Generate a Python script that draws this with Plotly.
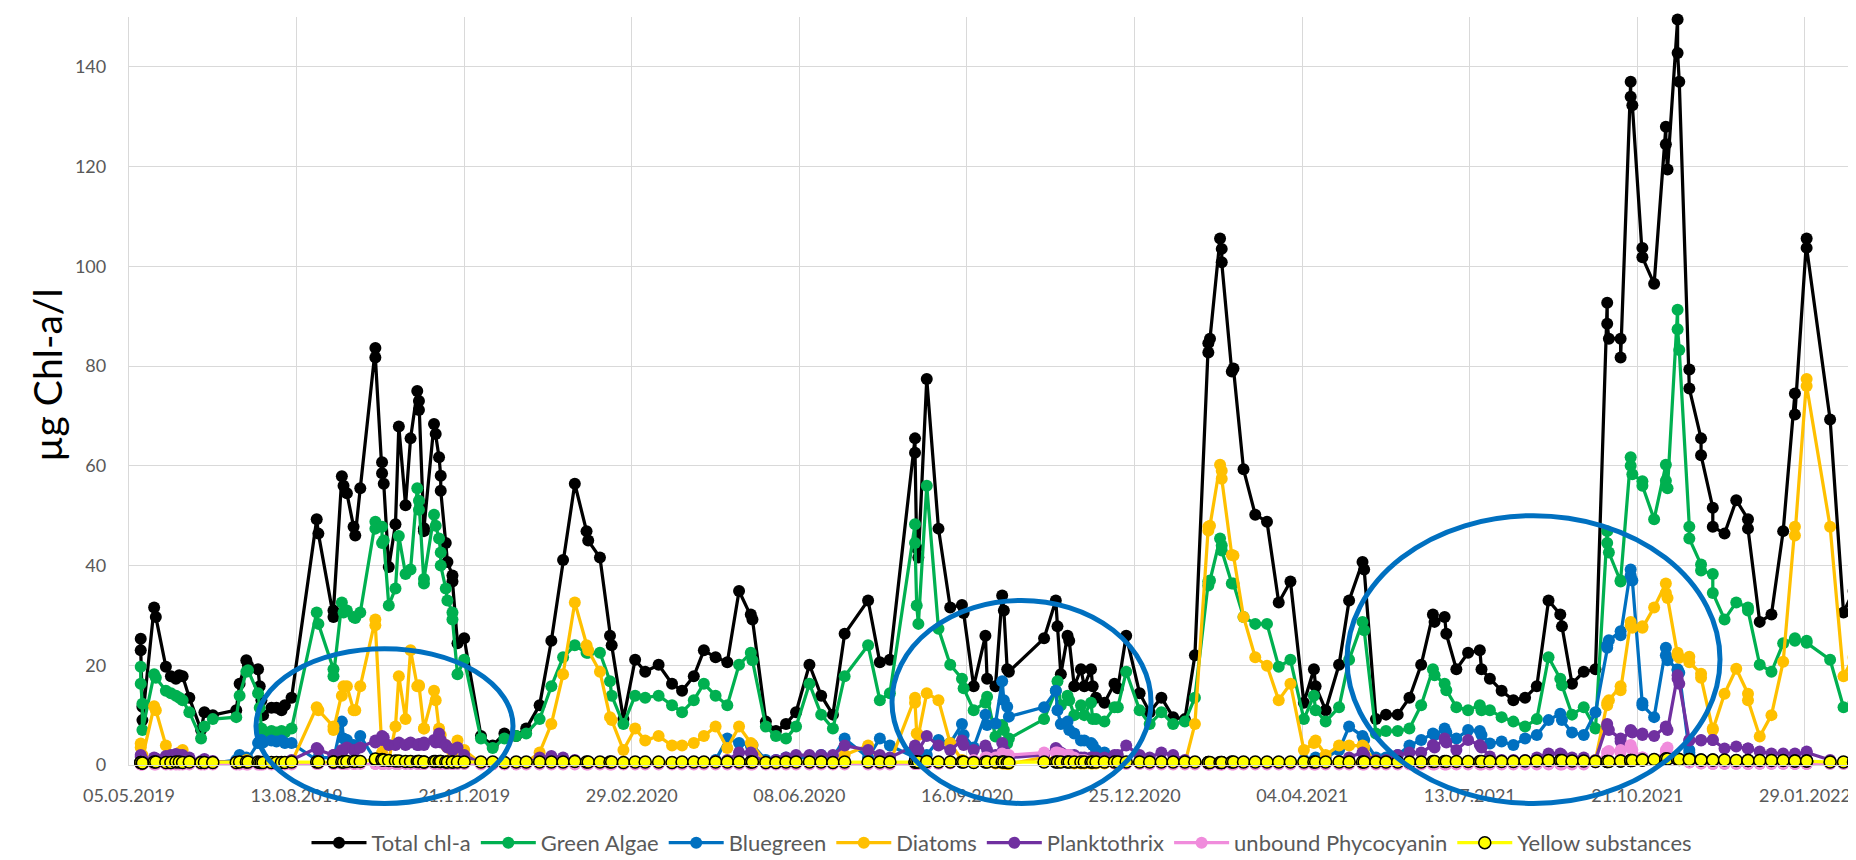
import pandas as pd
import plotly.graph_objects as go

# sampling days, counted from 05.05.2019 (first tick of the date axis)
sample_day = [
    # May - Jun 2019
    7, 7, 8, 8, 15, 16, 22, 25, 28, 30, 32, 36, 43, 45, 50,
    # Jul - Aug 2019
    64, 66, 70, 71, 77, 78, 79, 80, 85, 88, 91, 93, 97,
    # Aug - Nov 2019
    112, 113, 122, 122, 127, 128, 130, 134, 135, 138, 147, 147, 151, 151, 152, 155, 159, 161,
    165, 168, 172, 173, 173, 176, 176, 182, 183, 185, 186, 186, 189, 190, 193, 193, 196, 200,
    # Dec 2019 - Apr 2020
    210, 217, 224, 231, 237, 245, 252, 259, 266, 273, 274, 281, 287, 288, 295, 302, 308, 316,
    324, 330, 337, 343, 350, 357,
    # May - Aug 2020
    364, 371, 372, 380, 386, 392, 398, 406, 413, 420, 427, 441, 448, 454,
    # Aug - Oct 2020
    469, 469, 470, 471, 476, 483, 490, 497, 498, 504, 511, 512, 517, 521, 522, 524, 525,
    # Nov 2020 - Jan 2021
    546, 553, 554, 556, 560, 561, 564, 568, 570, 574, 575, 577, 582, 588, 590, 595, 603, 609,
    616, 623, 630,
    # Feb - May 2021
    636, 644, 644, 645, 651, 652, 652, 658, 659, 665, 672, 679, 686, 693, 701, 707, 708, 714,
    722, 728, 736, 737,
    # May - Sep 2021
    744, 750, 757, 764, 771, 778, 779, 785, 786, 792, 799, 806, 807, 812, 819, 826, 833, 840,
    847, 854, 855, 861, 868, 875,
    # Oct 2021 - Feb 2022
    882, 882, 883, 890, 890, 896, 896, 897, 903, 903, 910, 917, 917, 918, 924, 924, 925, 931,
    931, 938, 938, 945, 945, 952, 959, 966, 966, 973, 980, 987, 994, 994, 1001, 1001, 1015,
    1023, 1029, 1029,
]

total_chla = [
    25.3, 23.0, 11.7, 9.0, 31.6, 29.7, 19.7, 17.8, 17.3, 18.0, 17.8, 13.5, 7.0, 10.6, 10.0,
    11.0, 16.3, 21.0, 20.0, 19.2, 15.8, 13.0, 10.0, 11.5, 11.5, 11.0, 12.0, 13.5,
    49.3, 46.4, 29.7, 31.0, 57.9, 56.0, 54.5, 47.8, 46.0, 55.5, 83.6, 81.7, 60.7, 58.5, 56.4, 39.7, 48.3, 67.9,
    52.1, 65.5, 75.0, 71.2, 73.0, 46.9, 47.5, 68.4, 66.4, 61.7, 58.0, 55.0, 44.5, 40.7, 38.0, 36.8, 24.4, 25.4,
    5.8, 3.9, 6.3, 5.8, 7.3, 12.0, 24.9, 41.1, 56.4, 46.9, 45.0, 41.6, 25.9, 24.0, 9.2, 21.1, 18.7, 20.1,
    16.3, 14.9, 17.8, 23.0, 21.6, 20.6,
    34.9, 30.2, 29.2, 8.7, 6.8, 8.2, 10.6, 20.1, 13.9, 10.1, 26.3, 33.0, 20.6, 21.1,
    65.5, 62.6, 43.5, 41.6, 77.4, 47.4, 31.6, 32.1, 30.5, 15.8, 25.9, 17.3, 15.8, 34.0, 31.0, 19.2, 18.7,
    25.4, 33.0, 27.8, 18.2, 25.9, 24.9, 15.8, 19.2, 15.8, 19.2, 15.8, 13.5, 12.5, 16.3, 15.4, 25.9, 14.4, 10.6,
    13.5, 9.6, 9.2,
    22.0, 84.6, 82.7, 85.5, 105.6, 103.5, 100.8, 78.9, 79.5, 59.3, 50.2, 48.8, 32.6, 36.8, 12.5, 19.2, 15.8, 11.0,
    20.1, 33.0, 40.7, 39.2,
    9.2, 10.1, 10.1, 13.5, 20.1, 30.2, 28.7, 29.7, 26.3, 19.2, 22.5, 23.0, 19.2, 17.3, 14.9, 13.0, 13.5, 15.8,
    33.0, 30.2, 27.8, 16.3, 18.7, 19.2,
    92.7, 88.5, 85.5, 85.5, 81.7, 137.0, 134.0, 132.3, 103.7, 101.8, 96.5, 128.0, 124.5, 119.4, 149.5, 142.8, 137.0, 79.3,
    75.5, 65.5, 62.1, 51.6, 47.8, 46.4, 53.1, 49.3, 47.4, 28.7, 30.2, 46.9, 74.5, 70.3, 105.6, 103.7, 69.3,
    30.6, 34.9, 32.1,
]

green_algae = [
    19.7, 16.3, 12.3, 7.0, 18.2, 17.5, 14.9, 14.4, 13.9, 13.5, 13.0, 10.6, 5.3, 7.7, 9.2,
    9.6, 13.9, 18.7, 19.0, 14.4, 11.5, 7.3, 6.0, 6.8, 6.5, 6.8, 6.5, 7.3,
    30.6, 28.3, 19.2, 17.8, 32.6, 30.6, 31.0, 29.7, 29.5, 30.6, 48.8, 47.4, 47.8, 44.5, 45.0, 32.0, 35.4, 45.9,
    38.3, 39.2, 55.5, 51.2, 53.0, 36.4, 37.3, 50.2, 48.0, 45.4, 42.6, 40.0, 35.4, 33.0, 30.6, 29.2, 18.2, 21.1,
    5.3, 3.4, 5.3, 5.8, 6.3, 9.2, 15.8, 21.6, 24.0, 22.5, 22.5, 22.5, 16.8, 13.9, 8.2, 13.9, 13.5, 13.9,
    12.0, 10.6, 13.0, 16.3, 13.9, 12.0,
    20.1, 22.5, 21.0, 7.7, 5.8, 5.3, 7.7, 16.3, 10.1, 7.3, 17.8, 24.0, 13.0, 14.4,
    48.3, 44.5, 32.0, 28.3, 56.0, 27.3, 20.1, 17.3, 15.4, 11.0, 12.5, 13.7, 5.7, 8.0, 7.0, 4.3, 5.3,
    9.2, 14.9, 16.8, 12.0, 13.9, 13.0, 10.0, 12.0, 10.0, 12.5, 9.2, 9.2, 8.7, 11.6, 11.6, 18.7, 11.0, 8.2,
    10.6, 8.2, 8.7,
    13.5, 36.8, 36.0, 37.0, 45.4, 44.0, 43.0, 36.4, 36.4, 29.7, 28.3, 28.3, 19.7, 21.1, 9.2, 13.9, 11.0, 8.7,
    11.6, 21.1, 28.7, 27.0,
    6.3, 6.8, 6.8, 7.3, 12.0, 19.2, 18.0, 16.3, 15.0, 11.6, 11.0, 12.0, 11.0, 11.0, 9.6, 8.7, 7.7, 9.2,
    21.6, 17.3, 16.0, 10.1, 11.6, 7.3,
    46.9, 44.5, 42.6, 36.8, 37.0, 61.7, 60.0, 58.3, 56.9, 56.0, 49.3, 60.2, 57.0, 55.5, 91.3, 87.4, 83.2, 47.8,
    45.4, 40.2, 39.0, 38.3, 34.5, 29.2, 32.6, 31.6, 31.0, 20.1, 18.7, 24.4, 25.4, 24.9, 24.9, 24.5, 21.1,
    11.6, 12.5, 12.0,
]

bluegreen = [
    0.5, 0.4, 0.3, 0.3, 0.5, 0.4, 0.4, 0.4, 0.4, 0.4, 0.3, 0.3, 0.3, 0.5, 0.4,
    1.0, 2.0, 1.5, 1.2, 4.4, 4.8, 5.0, 4.5, 4.9, 4.7, 4.9, 4.4, 4.4,
    1.0, 1.5, 1.5, 1.0, 8.7, 5.3, 5.0, 4.0, 3.5, 5.8, 1.0, 0.8, 0.5, 0.3, 0.3, 0.3, 0.3, 0.3,
    0.3, 0.3, 0.3, 0.3, 0.3, 0.3, 0.3, 0.3, 0.3, 0.3, 0.3, 0.3, 0.3, 0.3, 0.3, 0.3, 0.3, 0.3,
    0.3, 0.2, 0.2, 0.2, 0.3, 0.3, 0.3, 0.3, 0.3, 0.3, 0.3, 0.3, 0.3, 0.3, 0.3, 0.3, 0.3, 0.3,
    0.3, 0.3, 0.3, 0.5, 1.0, 5.3,
    4.4, 3.9, 4.0, 1.0, 1.0, 1.5, 1.5, 1.5, 2.0, 1.5, 5.3, 1.5, 5.3, 3.9,
    1.5, 1.2, 1.0, 1.0, 2.0, 5.0, 4.4, 8.2, 6.0, 3.5, 10.1, 8.0, 8.3, 16.8, 13.0, 11.7, 9.7,
    11.6, 14.9, 11.0, 8.2, 8.7, 7.0, 6.3, 4.9, 4.9, 4.4, 4.0, 3.0, 2.5, 1.0, 0.8, 0.5, 0.5, 0.3,
    0.3, 0.3, 0.3,
    0.3, 0.3, 0.3, 0.3, 0.3, 0.3, 0.3, 0.3, 0.3, 0.3, 0.3, 0.3, 0.3, 0.5, 1.0, 1.0, 1.5, 1.5,
    3.0, 7.7, 5.8, 5.0,
    1.5, 1.5, 2.0, 3.9, 5.0, 6.3, 6.0, 7.3, 6.5, 5.3, 7.0, 6.8, 6.0, 4.3, 4.7, 4.0, 5.3, 6.0,
    9.0, 10.3, 9.0, 6.5, 6.0, 10.6,
    23.5, 24.0, 25.0, 26.8, 26.0, 39.2, 38.0, 37.0, 12.5, 12.0, 9.6, 23.5, 22.0, 21.0, 19.2, 19.0, 18.5, 3.0,
    2.5, 1.0, 1.0, 0.5, 0.5, 0.3, 0.3, 0.3, 0.3, 0.3, 0.3, 0.3, 0.3, 0.3, 0.3, 0.3, 0.3,
    0.3, 0.3, 0.3,
]

diatoms = [
    4.3, 3.5, 2.0, 1.5, 11.8, 11.0, 3.9, 1.5, 1.0, 2.5, 3.0, 1.0, 0.5, 0.5, 0.3,
    0.5, 0.5, 1.0, 0.8, 0.5, 0.5, 0.3, 0.2, 0.3, 0.3, 0.3, 0.3, 0.5,
    11.6, 11.0, 7.7, 7.0, 13.9, 15.8, 15.8, 11.0, 11.0, 15.8, 29.2, 28.0, 2.5, 1.5, 1.0, 1.0, 7.7, 17.8,
    9.2, 23.0, 15.8, 15.8, 16.0, 7.3, 7.3, 14.9, 13.0, 7.3, 6.0, 5.0, 4.0, 3.5, 3.0, 2.5, 4.9, 3.0,
    0.3, 0.2, 0.3, 0.3, 0.5, 2.5, 8.2, 18.2, 32.6, 24.0, 23.0, 18.7, 9.6, 9.0, 3.0, 7.3, 4.9, 5.8,
    3.9, 3.9, 4.4, 5.8, 7.7, 3.4,
    7.7, 4.4, 4.0, 0.5, 0.3, 0.3, 0.5, 0.5, 1.0, 0.5, 2.0, 3.9, 1.0, 0.5,
    13.5, 12.5, 6.3, 6.0, 14.4, 13.0, 4.4, 1.0, 0.8, 0.5, 0.5, 0.5, 0.3, 0.3, 0.3, 0.2, 0.2,
    1.5, 1.0, 1.0, 0.5, 0.5, 0.5, 0.3, 0.3, 0.3, 0.3, 0.3, 0.3, 0.3, 0.3, 0.3, 0.3, 0.3, 0.3,
    0.3, 0.3, 0.3,
    8.2, 47.8, 47.0, 48.0, 60.2, 59.0, 57.4, 42.1, 42.0, 29.7, 21.6, 19.9, 13.0, 16.3, 3.0, 4.4, 4.9, 2.0,
    3.9, 3.9, 3.9, 3.5,
    0.5, 0.3, 0.3, 0.3, 0.3, 0.3, 0.3, 0.3, 0.3, 0.3, 0.3, 0.3, 0.3, 0.3, 0.3, 0.3, 0.3, 0.3,
    0.3, 0.3, 0.3, 0.3, 0.3, 1.0,
    12.5, 12.0, 13.0, 15.8, 15.0, 28.7, 28.0, 27.5, 27.8, 27.5, 31.6, 36.4, 34.5, 33.5, 22.5, 22.0, 21.5, 21.7,
    20.6, 18.3, 17.5, 7.3, 7.0, 14.3, 19.3, 14.3, 13.0, 5.7, 10.0, 20.7, 47.8, 46.0, 77.4, 76.0, 47.8,
    17.8, 21.6, 19.7,
]

planktothrix = [
    2.0, 1.6, 1.2, 1.0, 1.5, 1.3, 1.8, 2.0, 2.2, 2.0, 2.0, 1.5, 0.8, 1.2, 0.8,
    0.5, 0.5, 0.5, 0.4, 0.3, 0.3, 0.3, 0.3, 0.5, 0.5, 0.5, 0.6, 1.0,
    3.4, 3.0, 2.0, 2.0, 3.0, 3.0, 3.5, 3.0, 3.0, 3.5, 4.9, 4.5, 5.8, 5.0, 5.5, 4.0, 4.0, 4.5,
    4.0, 4.5, 4.0, 4.2, 4.0, 4.5, 4.0, 5.0, 4.5, 6.3, 5.0, 4.5, 4.0, 3.5, 3.0, 3.0, 3.5, 2.0,
    0.3, 0.2, 0.2, 0.2, 0.3, 1.5, 1.8, 1.5, 1.0, 0.5, 0.5, 0.5, 0.5, 0.5, 0.3, 0.3, 0.3, 0.3,
    0.3, 0.3, 0.3, 0.5, 0.8, 1.0,
    2.5, 2.5, 2.0, 0.5, 1.0, 1.5, 2.0, 2.0, 2.0, 2.0, 3.9, 3.0, 2.0, 1.5,
    3.9, 3.5, 3.0, 3.0, 5.8, 3.9, 3.0, 4.9, 4.0, 3.0, 3.9, 3.0, 2.0, 4.4, 3.0, 2.0, 1.5,
    2.0, 3.4, 3.0, 2.5, 2.0, 2.0, 2.0, 1.5, 1.5, 1.5, 1.5, 1.5, 1.5, 2.0, 2.0, 3.9, 2.0, 1.5,
    2.5, 2.0, 1.0,
    0.5, 0.3, 0.3, 0.3, 0.3, 0.3, 0.3, 0.3, 0.3, 0.3, 0.3, 0.3, 0.3, 0.3, 0.5, 0.5, 0.5, 0.5,
    0.8, 1.5, 2.5, 2.0,
    1.0, 1.0, 2.0, 2.5, 2.5, 4.0, 3.5, 5.3, 4.5, 3.0, 5.0, 4.0, 3.5, 1.7, 1.0, 1.0, 1.0, 1.5,
    2.3, 2.3, 2.0, 1.5, 1.5, 1.0,
    8.2, 7.7, 7.0, 5.3, 4.7, 7.0, 6.8, 6.5, 6.3, 6.0, 5.8, 7.7, 7.5, 7.0, 17.3, 18.0, 16.3, 5.0,
    4.9, 5.0, 4.9, 5.0, 5.0, 3.3, 3.7, 3.3, 3.3, 2.7, 2.3, 2.3, 2.3, 2.0, 2.7, 2.5, 1.0,
    0.5, 0.5, 0.5,
]

phycocyanin = [
    0.1, 0.1, 0.1, 0.1, 0.1, 0.1, 0.1, 0.1, 0.1, 0.1, 0.1, 0.1, 0.1, 0.1, 0.1,
    0.1, 0.1, 0.1, 0.1, 0.1, 0.1, 0.1, 0.1, 0.1, 0.1, 0.1, 0.1, 0.1,
    0.2, 0.2, 0.2, 0.2, 0.2, 0.2, 0.2, 0.2, 0.2, 0.2, 0.2, 0.2, 0.2, 0.2, 0.2, 0.2, 0.2, 0.2,
    0.2, 0.2, 0.2, 0.2, 0.2, 0.2, 0.2, 0.2, 0.2, 0.2, 0.2, 0.2, 0.2, 0.2, 0.2, 0.2, 0.2, 0.2,
    0.1, 0.1, 0.1, 0.1, 0.1, 0.1, 0.1, 0.1, 0.1, 0.1, 0.1, 0.1, 0.1, 0.1, 0.1, 0.1, 0.1, 0.1,
    0.1, 0.1, 0.1, 0.1, 0.1, 0.1,
    0.1, 0.1, 0.1, 0.1, 0.1, 0.1, 0.1, 0.1, 0.1, 0.1, 0.1, 0.1, 0.1, 0.1,
    0.2, 0.2, 0.2, 0.2, 0.2, 0.2, 0.3, 0.5, 0.5, 1.0, 1.5, 1.5, 1.5, 2.3, 1.8, 2.0, 2.0,
    2.5, 2.5, 2.5, 2.3, 2.0, 2.0, 1.5, 1.0, 1.0, 0.8, 0.8, 0.5, 0.5, 0.3, 0.3, 0.2, 0.2, 0.1,
    0.1, 0.1, 0.1,
    0.1, 0.1, 0.1, 0.1, 0.1, 0.1, 0.1, 0.1, 0.1, 0.1, 0.1, 0.1, 0.1, 0.1, 0.1, 0.1, 0.1, 0.1,
    0.1, 0.1, 0.1, 0.1,
    0.1, 0.1, 0.1, 0.1, 0.1, 0.1, 0.1, 0.1, 0.1, 0.1, 0.1, 0.1, 0.1, 0.1, 0.1, 0.1, 0.1, 0.1,
    0.1, 0.1, 0.1, 0.1, 0.1, 0.5,
    2.5, 2.5, 2.8, 3.0, 2.5, 4.0, 3.5, 3.0, 1.5, 1.5, 1.0, 2.7, 3.0, 3.5, 1.0, 1.0, 1.0, 0.5,
    0.5, 0.3, 0.3, 0.2, 0.2, 0.2, 0.2, 0.2, 0.2, 0.2, 0.2, 0.2, 0.2, 0.2, 0.2, 0.2, 0.2,
    0.2, 0.2, 0.2,
]

yellow_substances = [
    0.5, 0.5, 0.4, 0.4, 0.6, 0.6, 0.5, 0.5, 0.6, 0.6, 0.5, 0.6, 0.5, 0.5, 0.5,
    0.5, 0.6, 0.6, 0.6, 0.6, 0.5, 0.5, 0.5, 0.5, 0.5, 0.5, 0.5, 0.6,
    0.6, 0.6, 0.6, 0.6, 0.6, 0.6, 0.7, 0.7, 0.7, 0.7, 1.1, 1.2, 1.1, 1.0, 1.0, 0.9, 0.8, 0.8,
    0.7, 0.7, 0.7, 0.7, 0.7, 0.6, 0.6, 0.7, 0.7, 0.7, 0.7, 0.7, 0.6, 0.6, 0.6, 0.6, 0.6, 0.6,
    0.6, 0.6, 0.5, 0.6, 0.6, 0.6, 0.6, 0.6, 0.7, 0.6, 0.6, 0.6, 0.6, 0.6, 0.5, 0.6, 0.6, 0.6,
    0.5, 0.6, 0.6, 0.6, 0.6, 0.6,
    0.6, 0.6, 0.6, 0.5, 0.5, 0.6, 0.6, 0.6, 0.6, 0.5, 0.6, 0.6, 0.6, 0.6,
    0.6, 0.6, 0.6, 0.6, 0.7, 0.6, 0.6, 0.6, 0.6, 0.5, 0.6, 0.6, 0.6, 0.6, 0.6, 0.5, 0.5,
    0.6, 0.6, 0.6, 0.6, 0.6, 0.6, 0.6, 0.6, 0.6, 0.6, 0.6, 0.6, 0.6, 0.6, 0.6, 0.6, 0.6, 0.6,
    0.6, 0.6, 0.6,
    0.6, 0.5, 0.5, 0.5, 0.5, 0.5, 0.5, 0.6, 0.6, 0.6, 0.6, 0.6, 0.6, 0.6, 0.6, 0.6, 0.6, 0.6,
    0.6, 0.6, 0.6, 0.6,
    0.6, 0.6, 0.6, 0.6, 0.6, 0.7, 0.7, 0.7, 0.7, 0.7, 0.7, 0.7, 0.7, 0.7, 0.7, 0.7, 0.8, 0.8,
    0.9, 0.9, 0.9, 0.8, 0.8, 0.7,
    0.7, 0.7, 0.7, 0.8, 0.8, 0.9, 0.9, 0.9, 1.0, 1.0, 1.1, 1.2, 1.2, 1.2, 1.2, 1.2, 1.1, 1.1,
    1.1, 1.0, 1.0, 1.0, 1.0, 1.0, 0.9, 0.9, 0.9, 0.9, 0.9, 0.9, 0.8, 0.8, 0.8, 0.8, 0.6,
    0.6, 0.6, 0.6,
]

series = [
    ("Total chl-a", total_chla, "#000000"),
    ("Green Algae", green_algae, "#00B050"),
    ("Bluegreen", bluegreen, "#0070C0"),
    ("Diatoms", diatoms, "#FFC000"),
    ("Planktothrix", planktothrix, "#7030A0"),
    ("unbound Phycocyanin", phycocyanin, "#F08CDC"),
]

for name, values, _ in series:
    assert len(values) == len(sample_day), (name, len(values), len(sample_day))
assert len(yellow_substances) == len(sample_day)

first_tick = pd.Timestamp("2019-05-05")
dates = first_tick + pd.to_timedelta(sample_day, unit="D")

fig = go.Figure()
for name, values, color in series:
    fig.add_trace(go.Scatter(
        x=dates, y=values, name=name, mode="lines+markers",
        line=dict(color=color, width=3.25),
        marker=dict(color=color, size=12),
        cliponaxis=False,
    ))

fig.add_trace(go.Scatter(
    x=dates, y=yellow_substances, name="Yellow substances", mode="lines+markers",
    line=dict(color="#FFFF00", width=3.25),
    marker=dict(color="#FFFF00", size=12, line=dict(color="#000000", width=1.5)),
    cliponaxis=False,
))

# plot area in pixels: left 121, right 1852, top 9, bottom 768
PL, PR, PT, PB = 121, 1852, 9, 768


def paper_x(px):
    return (px - PL) / (PR - PL)


def paper_y(py):
    return (PB - py) / (PB - PT)


# blue ellipses drawn over the chart (left, right, top, bottom in pixels)
ellipses = [(248, 505, 650, 807), (884, 1143, 601, 807), (1339, 1712, 515, 807)]
for x0, x1, y0, y1 in ellipses:
    fig.add_shape(
        type="circle", xref="paper", yref="paper",
        x0=paper_x(x0), x1=paper_x(x1), y0=paper_y(y1), y1=paper_y(y0),
        line=dict(color="#0070C0", width=5), layer="above",
    )

fig.add_annotation(
    text="µg Chl-a/l", textangle=-90, xref="paper", yref="paper",
    x=paper_x(39), y=paper_y(373), xanchor="center", yanchor="middle",
    showarrow=False, font=dict(family="Lato", size=39, color="#000000"),
)

fig.update_layout(
    width=1856,
    height=860,
    margin=dict(l=PL, r=1856 - PR, t=PT, b=860 - PB),
    paper_bgcolor="white",
    plot_bgcolor="white",
    font=dict(family="Lato", size=18, color="#595959"),
    legend=dict(
        orientation="h",
        x=paper_x(994), xanchor="center",
        y=paper_y(847), yanchor="middle",
        font=dict(family="Lato", size=22, color="#595959"),
        itemwidth=55,
        traceorder="normal",
    ),
    xaxis=dict(
        type="date",
        range=[first_tick, pd.Timestamp("2022-03-02 20:00")],
        tick0=first_tick,
        dtick=100 * 86400000,
        tickformat="%d.%m.%Y",
        showgrid=True, gridcolor="#d9d9d9", gridwidth=1.3,
        showline=True, linecolor="#d9d9d9", linewidth=1.3,
        zeroline=False, ticks="",
        ticklabelstandoff=14,
    ),
    yaxis=dict(
        range=[0, 150],
        dtick=20,
        showgrid=True, gridcolor="#d9d9d9", gridwidth=1.3,
        showline=True, linecolor="#d9d9d9", linewidth=1.3,
        zeroline=False, ticks="",
        ticklabelstandoff=18,
    ),
)

fig.write_html("out.html")
